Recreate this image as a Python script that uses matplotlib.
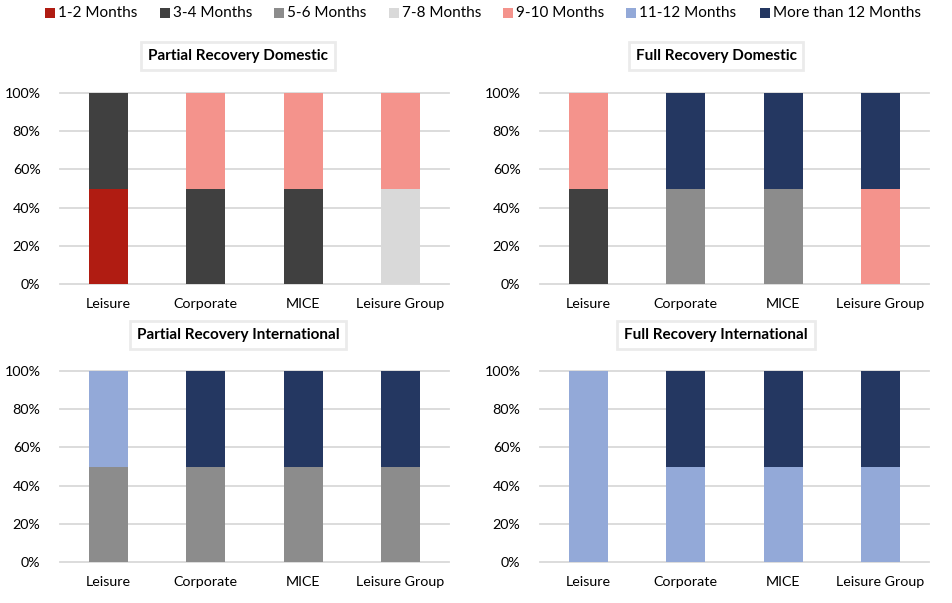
import matplotlib
matplotlib.use("Agg")
import matplotlib.pyplot as plt
from matplotlib.patches import Rectangle
import numpy as np

plt.rcParams['font.family'] = ['Lato', 'DejaVu Sans']

categories = ["Leisure", "Corporate", "MICE", "Leisure Group"]
series_names = ["1-2 Months", "3-4 Months", "5-6 Months", "7-8 Months",
                "9-10 Months", "11-12 Months", "More than 12 Months"]
colors = ["#B01C12", "#404040", "#8C8C8C", "#D9D9D9", "#F4938C", "#93A9D8", "#243761"]

# values (%) per series, per category
partial_domestic = [
    [50, 0, 0, 0],
    [50, 50, 50, 0],
    [0, 0, 0, 0],
    [0, 0, 0, 50],
    [0, 50, 50, 50],
    [0, 0, 0, 0],
    [0, 0, 0, 0],
]
full_domestic = [
    [0, 0, 0, 0],
    [50, 0, 0, 0],
    [0, 50, 50, 0],
    [0, 0, 0, 0],
    [50, 0, 0, 50],
    [0, 0, 0, 0],
    [0, 50, 50, 50],
]
partial_international = [
    [0, 0, 0, 0],
    [0, 0, 0, 0],
    [50, 50, 50, 50],
    [0, 0, 0, 0],
    [0, 0, 0, 0],
    [50, 0, 0, 0],
    [0, 50, 50, 50],
]
full_international = [
    [0, 0, 0, 0],
    [0, 0, 0, 0],
    [0, 0, 0, 0],
    [0, 0, 0, 0],
    [0, 0, 0, 0],
    [100, 50, 50, 50],
    [0, 50, 50, 50],
]

titles = ["Partial Recovery Domestic", "Full Recovery Domestic",
          "Partial Recovery International", "Full Recovery International"]
datasets = [partial_domestic, full_domestic, partial_international, full_international]

W, H = 952, 603
fig = plt.figure(figsize=(W / 100, H / 100), dpi=100)

# pixel layout: (left, top-of-plot, bottom-of-plot)
panels = [(60, 93, 284), (540, 93, 284), (60, 371, 562), (540, 371, 562)]
title_pos = [(238, 56), (716, 56), (238, 335), (716, 335)]
axw = 389

for (lx, ty, by), data, title, (tx, tyy) in zip(panels, datasets, titles, title_pos):
    ax = fig.add_axes([lx / W, 1 - by / H, axw / W, (by - ty) / H])
    x = np.arange(len(categories))
    bottom = np.zeros(len(categories))
    for vals, c in zip(data, colors):
        v = np.array(vals) / 100.0
        ax.bar(x, v, bottom=bottom, width=0.40, color=c, zorder=3)
        bottom += v
    ax.set_xlim(-0.5, 3.5)
    ax.set_ylim(0, 1.0)
    ax.set_yticks(np.linspace(0, 1, 6))
    ax.set_yticklabels([f"{int(round(t * 100))}%" for t in np.linspace(0, 1, 6)])
    ax.set_xticks(x)
    ax.set_xticklabels(categories)
    ax.tick_params(axis='both', length=0, labelsize=10.3, colors="#000000")
    ax.tick_params(axis='y', pad=14)
    ax.tick_params(axis='x', pad=10)
    ax.grid(axis='y', color="#D9D9D9", linewidth=1.3, zorder=0)
    for gl in ax.get_ygridlines():
        gl.set_clip_on(False)
    for s in ax.spines.values():
        s.set_visible(False)
    fig.text(tx / W, 1 - tyy / H, title, ha='center', va='center',
             fontsize=11, fontweight='bold',
             bbox=dict(boxstyle='square,pad=0.45', facecolor='white',
                       edgecolor='#EBEBEB', linewidth=2))

# legend entries placed along the top (pixel x of each marker)
legend_x = [45, 160, 274, 389, 503, 626, 760]
for lxp, name, c in zip(legend_x, series_names, colors):
    fig.patches.append(Rectangle((lxp / W, 1 - 18 / H), 10 / W, 10 / H,
                                 transform=fig.transFigure, facecolor=c,
                                 edgecolor='none'))
    fig.text((lxp + 13) / W, 1 - 13 / H, name, ha='left', va='center',
             fontsize=11, color='#000000')

fig.savefig("out.png", dpi=100)
